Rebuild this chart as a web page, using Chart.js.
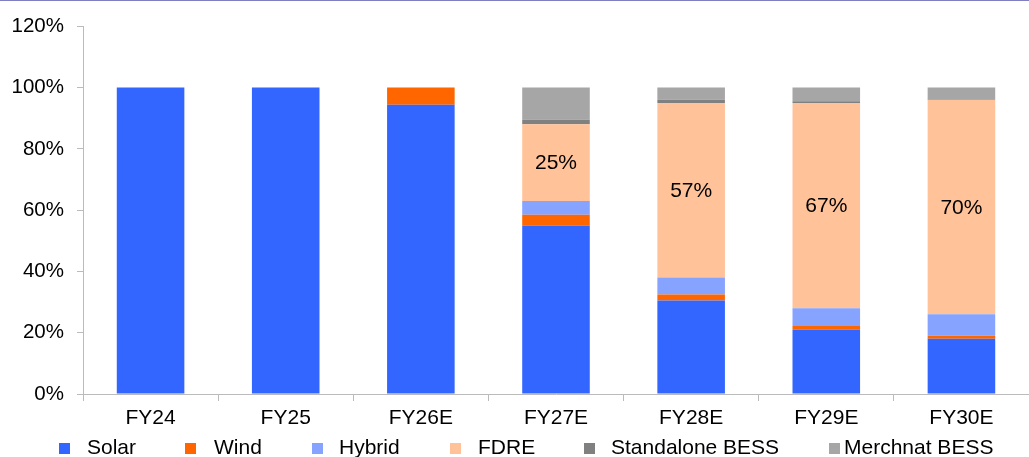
<!DOCTYPE html>
<html>
<head>
<meta charset="utf-8">
<script src="https://cdn.jsdelivr.net/npm/chart.js@4.4.1/dist/chart.umd.min.js"></script>
<style>
  html, body { margin: 0; padding: 0; background: #fff; }
  #wrap { position: relative; width: 1029px; height: 457px; border-top: 1px solid #8080c0; box-sizing: border-box; }
  #mixChart { position: absolute; left: 0; top: 0; }
  #legend { position: absolute; left: 0; top: 434px; width: 1029px; height: 24px;
            font-family: "Liberation Sans", Arial, sans-serif; font-size: 21px; color: #000; }
  .lg-item { position: absolute; top: 0; line-height: 24px; white-space: nowrap; }
  .lg-box { position: absolute; top: 8px; left: 0; width: 11px; height: 11px; }
</style>
</head>
<body>
<div id="wrap">
  <canvas id="mixChart" width="1029" height="457"></canvas>
  <div id="legend"></div>
</div>
<script>
var years = ['FY24', 'FY25', 'FY26E', 'FY27E', 'FY28E', 'FY29E', 'FY30E'];

// capacity mix, % of total
var solar      = [100, 100, 94.4, 55,  30.5, 21,  18];
var wind       = [0,   0,   5.6,  3.5, 2,    1.2, 1];
var hybrid     = [0,   0,   0,    4.5, 5.5,  5.8, 7];
var fdre       = [0,   0,   0,    25,  57,   67,  70];
var standalone = [0,   0,   0,    1.5, 1,    0.5, 0.3];
var merchant   = [0,   0,   0,    10.5, 4,   4.5, 3.7];

var yTicks = [0, 20, 40, 60, 80, 100, 120];

var FONT = '"Liberation Sans", Arial, sans-serif';

// legend placement (left edge of each swatch, gap to its text)
var legendLeft = [59, 185, 312, 450, 584, 829];
var legendGap  = [28, 29, 27, 28, 27, 15];

// writes the value in the middle of the FDRE segments
var segmentLabels = {
  id: 'segmentLabels',
  afterDatasetsDraw: function(chart) {
    var ctx = chart.ctx;
    chart.data.datasets.forEach(function(ds, i) {
      if (!ds.showValues) return;
      var meta = chart.getDatasetMeta(i);
      meta.data.forEach(function(bar, j) {
        var v = ds.data[j];
        if (!v) return;
        var c = bar.getCenterPoint();
        ctx.save();
        ctx.font = '21px ' + FONT;
        ctx.fillStyle = '#000';
        ctx.textAlign = 'center';
        ctx.textBaseline = 'middle';
        ctx.fillText(v + '%', c.x, c.y + 1);
        ctx.restore();
      });
    });
  }
};

var ctx = document.getElementById('mixChart').getContext('2d');
var chart = new Chart(ctx, {
  type: 'bar',
  data: {
    labels: years,
    datasets: [
      { label: 'Solar', data: solar, backgroundColor: '#3366ff' },
      { label: 'Wind', data: wind, backgroundColor: '#ff6600' },
      { label: 'Hybrid', data: hybrid, backgroundColor: '#85a3ff' },
      { label: 'FDRE', data: fdre, backgroundColor: '#ffc299', showValues: true },
      { label: 'Standalone BESS', data: standalone, backgroundColor: '#808080' },
      { label: 'Merchnat BESS', data: merchant, backgroundColor: '#a6a6a6' }
    ]
  },
  options: {
    responsive: false,
    animation: false,
    layout: { padding: { top: 25, left: 0, right: 0, bottom: 0 } },
    datasets: { bar: { barPercentage: 0.5, categoryPercentage: 1.0, borderWidth: 0 } },
    plugins: { legend: { display: false }, tooltip: { enabled: false } },
    scales: {
      x: {
        stacked: true,
        grid: { offset: true, drawOnChartArea: false, drawTicks: true, tickLength: 7, color: '#bbbbbb' },
        border: { color: '#bbbbbb' },
        ticks: { color: '#000', font: { family: FONT, size: 21 }, padding: 5, maxRotation: 0 },
        afterFit: function(scale) { scale.height = 64; }
      },
      y: {
        stacked: true,
        min: 0,
        max: 120,
        afterBuildTicks: function(scale) {
          scale.ticks = yTicks.map(function(v) { return { value: v }; });
        },
        grid: { drawOnChartArea: false, drawTicks: true, tickLength: 6, color: '#bbbbbb' },
        border: { color: '#bbbbbb' },
        ticks: {
          color: '#000',
          font: { family: FONT, size: 20.5 },
          padding: 13,
          callback: function(v) { return v + '%'; }
        },
        afterFit: function(scale) { scale.width = 83; }
      }
    }
  },
  plugins: [segmentLabels]
});

// legend built from the chart's own datasets
var legendEl = document.getElementById('legend');
chart.data.datasets.forEach(function(ds, i) {
  var item = document.createElement('div');
  item.className = 'lg-item';
  item.style.left = legendLeft[i] + 'px';
  var box = document.createElement('span');
  box.className = 'lg-box';
  box.style.background = ds.backgroundColor;
  var txt = document.createElement('span');
  txt.style.marginLeft = legendGap[i] + 'px';
  txt.textContent = ds.label;
  item.appendChild(box);
  item.appendChild(txt);
  legendEl.appendChild(item);
});
</script>
</body>
</html>
